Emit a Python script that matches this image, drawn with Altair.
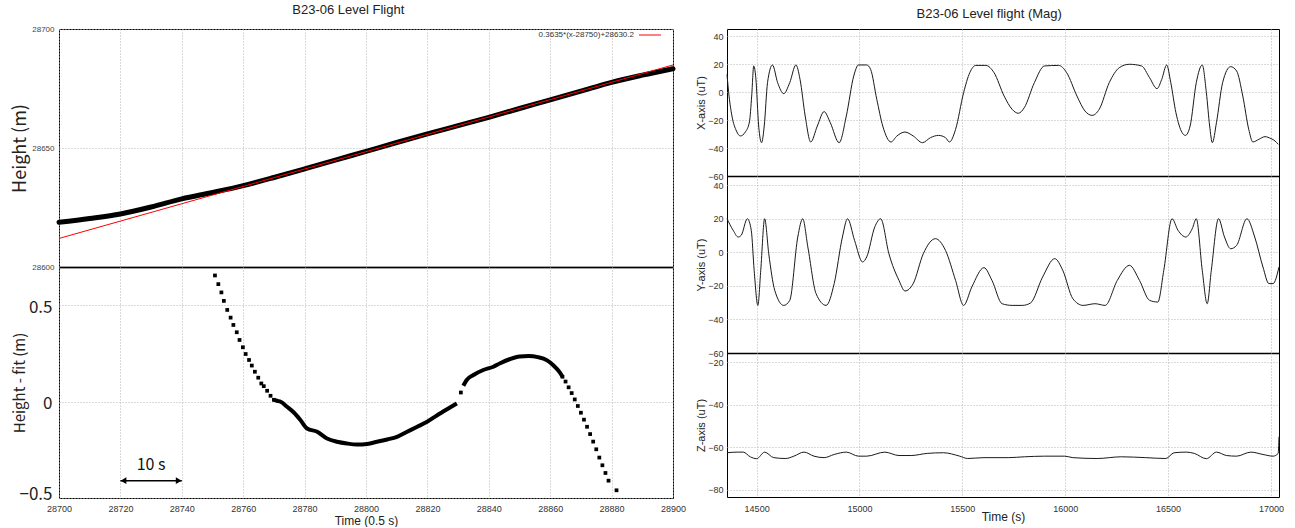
import altair as alt
import pandas as pd

FONT = "Liberation Sans"
JP = "Noto Sans CJK JP"

# ---------------- Left chart data ----------------
height_time = [28700, 28710, 28720, 28730, 28740, 28750, 28760, 28770, 28780, 28790,
               28800, 28810, 28820, 28830, 28840, 28850, 28860, 28870, 28880, 28890, 28900]
height_m = [28618.8, 28620.4, 28622.3, 28625.2, 28628.6, 28631.3, 28634.2, 28637.6, 28641.2, 28644.9,
            28648.6, 28652.3, 28655.9, 28659.4, 28662.9, 28666.6, 28670.2, 28673.9, 28677.6, 28680.6, 28683.3]
fit_time = [28700, 28900]
fit_height = [28612.0, 28684.9]
fit_label = "0.3635*(x-28750)+28630.2"

resid_sparse_time = [28750.8, 28751.9, 28752.9, 28753.7, 28754.8, 28755.9, 28756.8, 28757.9, 28758.8, 28759.9,
                     28760.8, 28761.9, 28762.8, 28763.8, 28764.9, 28765.9, 28766.7, 28767.8, 28768.9, 28770.0,
                     28830.9,
                     28864, 28865, 28866, 28867, 28868, 28869, 28870, 28871, 28872, 28873, 28874, 28875,
                     28876, 28877, 28878, 28879, 28881.6]
resid_sparse_value = [0.656, 0.611, 0.568, 0.524, 0.477, 0.437, 0.399, 0.361, 0.321, 0.283,
                      0.248, 0.217, 0.188, 0.156, 0.125, 0.095, 0.081, 0.057, 0.031, 0.010,
                      0.048,
                      0.13, 0.105, 0.075, 0.045, 0.012, -0.022, -0.057, -0.093, -0.13, -0.168, -0.207, -0.247,
                      -0.29, -0.33, -0.37, -0.41, -0.46]
resid_dense1_time = [28770.0, 28771.0, 28772.2, 28774.3, 28776.5, 28778.7, 28780.8, 28784.1, 28787.3, 28790.6,
                     28793.8, 28797.1, 28800.4, 28803.6, 28806.9, 28810.1, 28813.4, 28816.7, 28819.9, 28823.2,
                     28826.4, 28829.6]
resid_dense1_value = [0.010, 0.005, 0.0, -0.026, -0.056, -0.096, -0.139, -0.156, -0.191, -0.208,
                      -0.217, -0.222, -0.219, -0.208, -0.196, -0.182, -0.156, -0.130, -0.104, -0.070,
                      -0.039, -0.009]
resid_dense2_time = [28831.7, 28832.8, 28835.0, 28838.2, 28841.5, 28843.7, 28847, 28850, 28853, 28856,
                     28859, 28861, 28863, 28864]
resid_dense2_value = [0.083, 0.113, 0.139, 0.165, 0.182, 0.200, 0.222, 0.235, 0.238, 0.232,
                      0.215, 0.19, 0.155, 0.13]

scale_bar_start = 28720
scale_bar_end = 28740
scale_bar_level = -0.41
scale_bar_label = "10 s"
scale_bar_label_level = -0.33

left_x_ticks = [28700, 28720, 28740, 28760, 28780, 28800, 28820, 28840, 28860, 28880, 28900]
left_top_y_ticks = [28600, 28650, 28700]
left_bottom_y_ticks = [-0.5, 0, 0.5]

# ---------------- Right chart data ----------------
magx_time = [14356, 14366, 14380, 14402, 14421, 14445, 14465, 14476, 14486, 14496, 14510, 14524, 14537, 14553,
             14577, 14602, 14632, 14661, 14691, 14711, 14736, 14763, 14795, 14828, 14858, 14901, 14936, 14972,
             14995, 15035, 15054, 15084, 15113, 15153, 15182, 15221, 15261, 15306, 15345, 15384, 15418, 15437,
             15467, 15506, 15536, 15565, 15614, 15654, 15703, 15742, 15772, 15801, 15850, 15899, 15968, 16007,
             16057, 16096, 16131, 16165, 16214, 16263, 16312, 16371, 16410, 16446, 16469, 16493, 16513, 16538,
             16568, 16584, 16607, 16637, 16666, 16686, 16702, 16715, 16735, 16765, 16804, 16833, 16863, 16892,
             16912, 16941, 16971, 17000, 17020, 17035]
magx_value = [12.6, -2.9, -17.1, -27.9, -31.4, -28.6, -21.4, -2.9, 18.6, 10.2, -24.3, -36.2, -24.3, 6.7,
              19.3, 6.7, -1.2, 6.7, 19.3, 9.0, -17.1, -35.7, -24.3, -14.0, -21.9, -36.2, -17.1, 11.4,
              19.3, 19.3, 16.2, -5.2, -24.3, -35.7, -31.4, -28.6, -31.4, -36.2, -32.6, -31.0, -32.6, -35.7,
              -26.7, -0.5, 13.8, 19.0, 19.0, 13.8, -2.9, -12.4, -15.2, -11.2, 6.7, 18.6, 19.0, 13.8,
              -2.9, -13.6, -16.7, -12.4, 6.7, 17.4, 19.8, 18.6, 10.2, 2.4, 9.0, 19.3, 6.7, -14.8,
              -29.0, -31.0, -24.3, 6.7, 19.3, -0.5, -24.3, -36.2, -21.9, 6.7, 18.1, 15.0, -2.9, -26.7,
              -35.7, -33.8, -31.9, -33.3, -35.0, -37.4]

magy_time = [14356, 14386, 14410, 14425, 14455, 14474, 14488, 14506, 14520, 14539, 14559, 14588, 14632, 14661,
             14700, 14724, 14749, 14789, 14838, 14877, 14917, 14942, 14976, 15015, 15035, 15074, 15103, 15143,
             15192, 15221, 15261, 15310, 15369, 15418, 15467, 15506, 15546, 15605, 15644, 15693, 15742, 15791,
             15831, 15890, 15949, 15988, 16037, 16087, 16145, 16194, 16253, 16312, 16361, 16410, 16450, 16479,
             16519, 16548, 16586, 16617, 16637, 16666, 16690, 16710, 16745, 16774, 16804, 16833, 16883, 16921,
             16961, 16990, 17010, 17039]
magy_value = [20.1, 13.2, 9.2, 10.2, 20.1, 13.2, -10.7, -31.6, -10.7, 20.1, -0.8, -22.6, -31.6, -28.6,
              9.2, 20.1, 3.2, -24.6, -31.6, -18.6, 9.2, 20.1, 7.2, -5.7, -2.7, 15.1, 20.1, -0.8,
              -16.7, -23.0, -18.6, -0.8, 8.2, 1.2, -16.7, -31.6, -20.6, -9.1, -16.7, -30.6, -31.6, -31.6,
              -30.2, -14.7, -3.7, -10.7, -27.6, -31.6, -30.6, -31.6, -16.7, -7.7, -16.7, -28.6, -29.6, -10.7,
              20.1, 13.2, 9.2, 14.1, 20.1, -10.7, -30.6, -10.7, 20.1, 9.2, 2.2, 4.2, 20.1, 9.2,
              -8.7, -18.6, -18.6, -8.7]

magz_time = [14356, 14406, 14435, 14469, 14500, 14539, 14583, 14642, 14681, 14730, 14779, 14828, 14877, 14936,
             14995, 15035, 15123, 15192, 15251, 15329, 15408, 15487, 15526, 15605, 15723, 15801, 15899, 15998,
             16037, 16155, 16273, 16391, 16489, 16529, 16588, 16627, 16686, 16735, 16784, 16833, 16902, 16961,
             17010, 17035, 17039]
magz_value = [-62.5, -62.2, -62.2, -64.4, -65.3, -62.2, -64.8, -65.2, -64.1, -62.2, -64.1, -64.8, -63.3, -62.2,
              -64.1, -64.1, -62.2, -63.8, -63.8, -62.8, -62.5, -64.1, -65.2, -64.8, -64.8, -64.4, -64.1, -64.1,
              -64.8, -65.2, -64.4, -64.8, -65.2, -62.5, -62.2, -62.8, -65.3, -62.2, -63.8, -64.1, -62.2, -63.3,
              -64.1, -62.8, -55.0]

right_x_ticks = [14500, 15000, 15500, 16000, 16500, 17000]
xy_ticks = [-60, -40, -20, 0, 20, 40]
z_ticks = [-80, -60, -40, -20]

# ---------------- styles ----------------
GRID = dict(grid=True, gridColor="#b5b5b5", gridDash=[1, 2], gridWidth=1)

# ---------------- Left chart ----------------
LX = alt.Scale(domain=[28700, 28900], nice=False, zero=False)
top_y = alt.Scale(domain=[28600, 28700], nice=False, zero=False)
bot_y = alt.Scale(domain=[-0.5, 0.7], nice=False, zero=False)

top_x_axis = alt.Axis(values=left_x_ticks, labels=False, ticks=False, title=None,
                      domain=True, domainColor="#444444", domainWidth=2, **GRID)
top_y_axis = alt.Axis(values=left_top_y_ticks, format="d", ticks=False, domain=False, labelFont=FONT,
                      labelFontSize=8, labelColor="#444444", labelPadding=5, labelOverlap=False,
                      title="Height (m)", titleFont=JP, titleFontSize=18, titleFontWeight="normal",
                      titleColor="#222222", titleX=-39, titleBaseline="middle", **GRID)

df_h = pd.DataFrame({"t": height_time, "v": height_m})
df_fit = pd.DataFrame({"t": fit_time, "v": fit_height})

height_line = alt.Chart(df_h).mark_line(color="black", strokeWidth=5, interpolate="monotone",
                                        strokeCap="round").encode(
    x=alt.X("t:Q", scale=LX, axis=top_x_axis),
    y=alt.Y("v:Q", scale=top_y, axis=top_y_axis),
)
fit_line = alt.Chart(df_fit).mark_line(color="#ff0000", strokeWidth=1).encode(
    x=alt.X("t:Q", scale=LX, axis=top_x_axis),
    y=alt.Y("v:Q", scale=top_y, axis=top_y_axis),
)
legend_df = pd.DataFrame({"label": [fit_label]})
legend_text = alt.Chart(legend_df).mark_text(align="right", baseline="middle", font=FONT, fontSize=8,
                                             color="#333333").encode(
    x=alt.value(575), y=alt.value(6), text="label:N")
legend_rule = alt.Chart(legend_df).mark_rule(color="#ff0000", strokeWidth=1).encode(
    x=alt.value(580), x2=alt.value(602), y=alt.value(6))

left_top = alt.layer(height_line, fit_line, legend_text, legend_rule).properties(width=614, height=238)

bot_x_axis = alt.Axis(values=left_x_ticks, format="d", ticks=False, domain=False, labelFont=FONT,
                      labelFontSize=9, labelColor="#333333", labelFlush=False, labelPadding=6,
                      labelOverlap=False,
                      title="Time (0.5 s)", titleFont=FONT, titleFontSize=12, titleFontWeight="normal",
                      titleColor="#222222", titleBaseline="middle", titleY=22, **GRID)
bot_y_axis = alt.Axis(values=left_bottom_y_ticks, format="~g", ticks=False, domain=False, labelFont=JP,
                      labelFontSize=17, labelColor="#222222", labelPadding=7, labelOverlap=False,
                      labelOffset={"condition": {"test": "datum.value < 0", "value": -4}, "value": 2},
                      title="Height - fit (m)", titleFont=JP, titleFontSize=15, titleFontWeight="normal",
                      titleColor="#222222", titleX=-40, titleBaseline="middle", **GRID)

df_rs = pd.DataFrame({"t": resid_sparse_time, "v": resid_sparse_value})
df_rd1 = pd.DataFrame({"t": resid_dense1_time, "v": resid_dense1_value})
df_rd2 = pd.DataFrame({"t": resid_dense2_time, "v": resid_dense2_value})

enc = dict(x=alt.X("t:Q", scale=LX, axis=bot_x_axis), y=alt.Y("v:Q", scale=bot_y, axis=bot_y_axis))
res_pts = alt.Chart(df_rs).mark_square(size=14, color="black", opacity=1).encode(**enc)
res_l1 = alt.Chart(df_rd1).mark_line(color="black", strokeWidth=4, interpolate="monotone").encode(**enc)
res_l2 = alt.Chart(df_rd2).mark_line(color="black", strokeWidth=4, interpolate="monotone").encode(**enc)

bar_df = pd.DataFrame({"t": [scale_bar_start], "t2": [scale_bar_end], "v": [scale_bar_level]})
bar_rule = alt.Chart(bar_df).mark_rule(color="black", strokeWidth=1.5).encode(
    x=alt.X("t:Q", scale=LX, axis=bot_x_axis), x2="t2:Q", y=alt.Y("v:Q", scale=bot_y, axis=bot_y_axis))
heads_df = pd.DataFrame({"t": [scale_bar_start + 1, scale_bar_end - 1],
                         "v": [scale_bar_level, scale_bar_level],
                         "shape": ["triangle-left", "triangle-right"]})
bar_heads = alt.Chart(heads_df).mark_point(filled=True, size=45, color="black", opacity=1).encode(
    x=alt.X("t:Q", scale=LX, axis=bot_x_axis), y=alt.Y("v:Q", scale=bot_y, axis=bot_y_axis),
    shape=alt.Shape("shape:N", scale=None, legend=None))
label_df = pd.DataFrame({"t": [(scale_bar_start + scale_bar_end) / 2], "v": [scale_bar_label_level],
                         "label": [scale_bar_label]})
bar_label = alt.Chart(label_df).mark_text(font=JP, fontSize=16, color="#111111", baseline="middle").encode(
    x=alt.X("t:Q", scale=LX, axis=bot_x_axis), y=alt.Y("v:Q", scale=bot_y, axis=bot_y_axis), text="label:N")

left_bottom = alt.layer(res_l1, res_l2, res_pts, bar_rule, bar_heads, bar_label).properties(width=614, height=231)

left = alt.vconcat(left_top, left_bottom, spacing=0, bounds="flush",
                   title=alt.Title("B23-06 Level Flight", offset=8, anchor="middle", font=FONT,
                                   fontSize=13, fontWeight="normal", color="#222222"))

# ---------------- Right chart ----------------
RX = alt.Scale(domain=[14356, 17039], nice=False, zero=False)


def mag_panel(times, values, domain, ticks, title, height, bottom):
    if bottom:
        xa = alt.Axis(values=right_x_ticks, format="d", ticks=False, domain=False, labelFont=FONT,
                      labelFontSize=9, labelColor="#333333", labelFlush=False, labelPadding=7,
                      title="Time (s)", titleFont=FONT, titleFontSize=12, titleFontWeight="normal",
                      titleColor="#222222", titleBaseline="middle", titleY=19, **GRID)
    else:
        xa = alt.Axis(values=right_x_ticks, labels=False, ticks=False, title=None, domain=True,
                      domainColor="black", domainWidth=1.5, **GRID)
    ya = alt.Axis(values=ticks, format="d", ticks=False, domain=False, labelFont=FONT, labelFontSize=9,
                  labelColor="#333333", labelPadding=4, labelOverlap=False,
                  title=title, titleFont=FONT, titleFontSize=11, titleFontWeight="normal",
                  titleColor="#222222", titleX=-26, titleBaseline="middle", **GRID)
    df = pd.DataFrame({"t": times, "v": values})
    return alt.Chart(df).mark_line(color="#1a1a1a", strokeWidth=1, interpolate="monotone").encode(
        x=alt.X("t:Q", scale=RX, axis=xa),
        y=alt.Y("v:Q", scale=alt.Scale(domain=domain, nice=False, zero=False), axis=ya),
    ).properties(width=552, height=height)


px = mag_panel(magx_time, magx_value, [-60, 45], xy_ticks, "X-axis (uT)", 147, False)
py = mag_panel(magy_time, magy_value, [-60, 45.6], xy_ticks, "Y-axis (uT)", 177, False)
pz = mag_panel(magz_time, magz_value, [-83.3, -15.6], z_ticks, "Z-axis (uT)", 144, True)

right = alt.vconcat(px, py, pz, spacing=0, bounds="flush",
                    title=alt.Title("B23-06 Level flight (Mag)", offset=8, anchor="middle", font=FONT,
                                    fontSize=13, fontWeight="normal", color="#222222"))

chart = alt.hconcat(left, right, spacing=7).properties(
    padding={"left": 10, "top": 3, "right": 0, "bottom": 0}, background="white"
).configure_view(stroke="black", strokeWidth=1)

chart.save("out.html", embed_options={"renderer": "svg", "actions": False})
